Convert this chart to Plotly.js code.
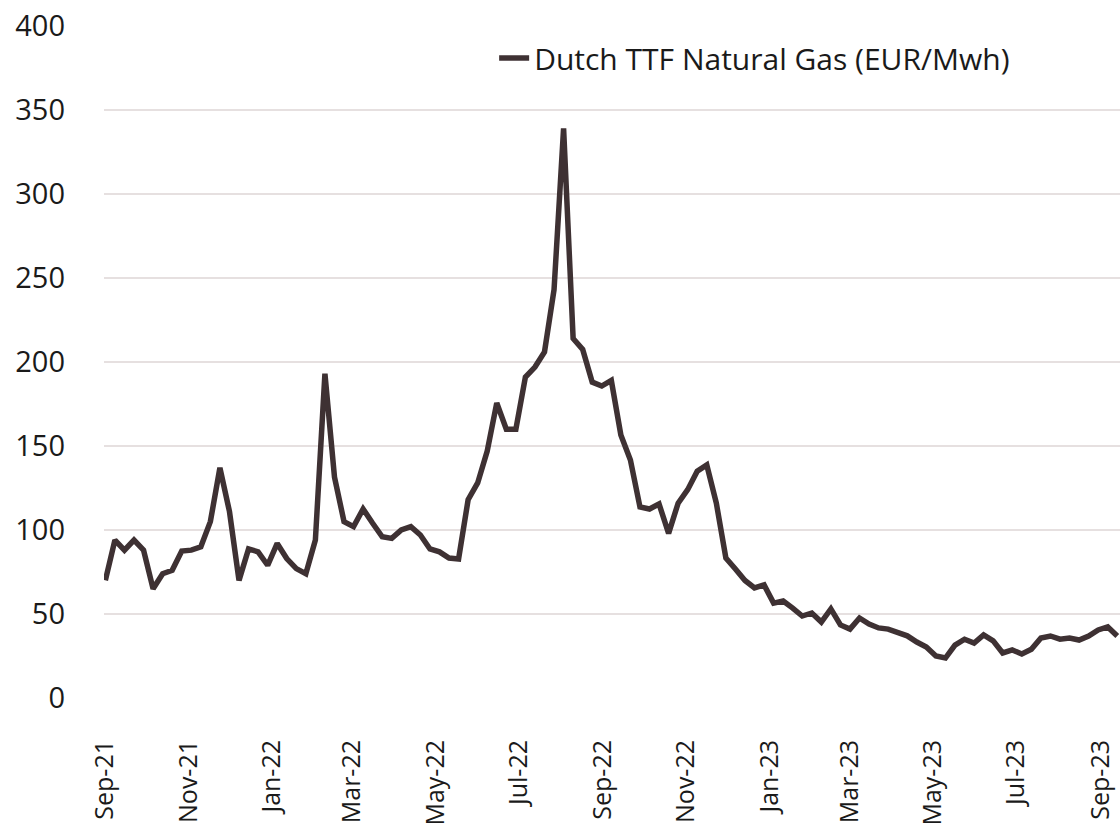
<!DOCTYPE html>
<html>
<head>
<meta charset="utf-8">
<script src="https://cdn.plot.ly/plotly-3.0.1.min.js"></script>
<style>html,body{margin:0;padding:0;background:#fff;}#chart{width:1120px;height:825px;}</style>
</head>
<body>
<div id="chart"></div>
<script>
// Weekly series: first observation date, then one value per week
const startDate = "2021-09-01";
const seriesName = "Dutch TTF Natural Gas (EUR/Mwh)";
const ttfValues = [
  70, 94, 88, 94, 88, 65, 74, 76, 87.5, 88,
  90, 105, 137, 111, 70, 88.7, 87, 79, 92, 83,
  77, 74, 94, 193, 131.5, 105, 102, 112.5, 104, 96,
  95, 100, 102, 97, 88.7, 87, 83.3, 82.7, 118, 128,
  147, 175.6, 160, 160, 191, 197, 206, 243, 339, 214,
  207.5, 188, 185.7, 189, 156.5, 141.7, 113.7, 112.5, 115.5, 98,
  116, 124, 135, 138.7, 116, 83.3, 76.8, 70, 65.5, 67.3,
  56.5, 57.7, 53.5, 48.8, 50.6, 45.2, 53, 43.5, 41, 47.6,
  44, 41.7, 41, 39.3, 37, 33.3, 30.4, 25, 23.8, 31.5,
  35, 32.7, 37.5, 34, 26.8, 28.6, 26.2, 29, 35.7, 36.9,
  35, 35.7, 34.5, 36.9, 40.5, 42.3, 36.9
];
const yTicks = [0, 50, 100, 150, 200, 250, 300, 350, 400];

// weekly dates (categories)
const dates = [];
(function(){
  const d0 = new Date(startDate + "T00:00:00Z");
  for (let i = 0; i < ttfValues.length; i++) {
    const d = new Date(d0.getTime() + i * 7 * 86400000);
    dates.push(d.toISOString().slice(0, 10));
  }
})();

const FONT = "Open Sans, Arial, sans-serif";
const trace = {
  x: dates,
  y: ttfValues,
  type: "scatter",
  mode: "lines",
  name: seriesName,
  line: {color: "#3e3133", width: 5.5, shape: "linear"},
  cliponaxis: true
};

const layout = {
  width: 1120,
  height: 825,
  margin: {l: 104, r: 0, t: 26, b: 127, pad: 0},
  paper_bgcolor: "#ffffff",
  plot_bgcolor: "#ffffff",
  font: {family: FONT, size: 28, color: "#1a1a1a"},
  showlegend: true,
  legend: {
    x: 0.384, y: 0.991, xanchor: "left", yanchor: "top",
    bgcolor: "rgba(0,0,0,0)",
    font: {family: FONT, size: 30, color: "#1a1a1a"}
  },
  xaxis: {
    type: "date",
    range: ["2021-08-31", "2023-09-15"],
    tick0: "2021-09-01",
    dtick: "M2",
    tickformat: "%b-%y",
    tickangle: -90,
    ticks: "",
    ticklabelstandoff: 36,
    showgrid: false,
    zeroline: false,
    showline: false,
    tickfont: {family: FONT, size: 25, color: "#1a1a1a"}
  },
  yaxis: {
    range: [0, 400],
    tickvals: yTicks,
    ticks: "",
    ticklabelstandoff: 38,
    showgrid: true,
    gridcolor: "#e6e0e0",
    gridwidth: 2,
    zeroline: false,
    showline: false,
    tickfont: {family: FONT, size: 29, color: "#1a1a1a"}
  }
};

Plotly.newPlot("chart", [trace], layout, {staticPlot: true, displayModeBar: false});
</script>
</body>
</html>
